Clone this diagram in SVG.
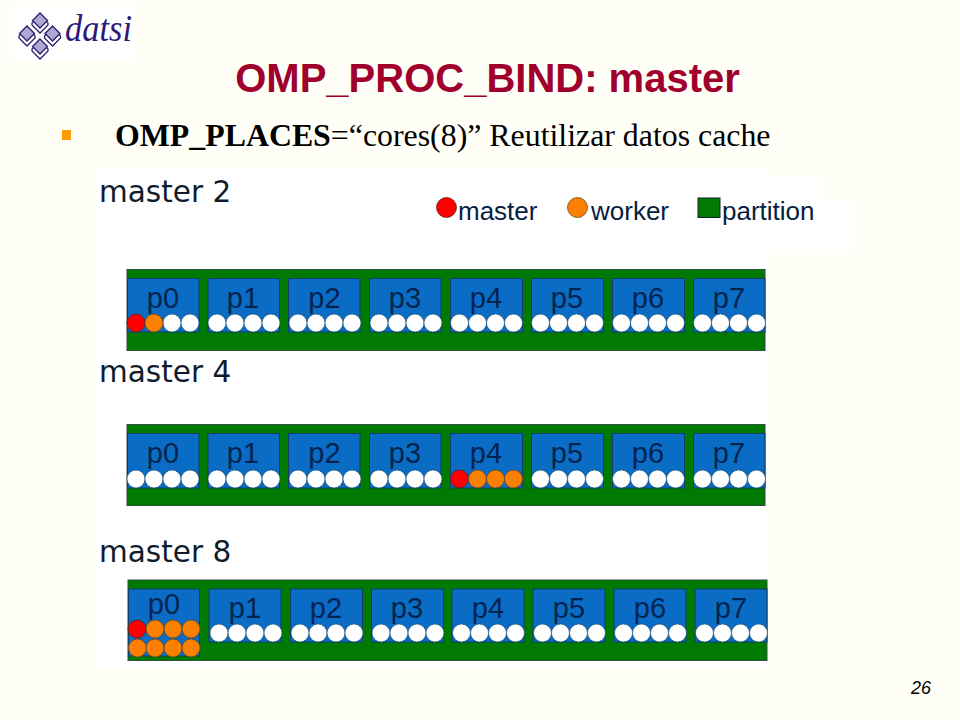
<svg xmlns="http://www.w3.org/2000/svg" width="960" height="720" viewBox="0 0 960 720">
<style>
.bg{fill:#fffff8}.w{fill:#fff}
.band{fill:#007a00;stroke:#2f4f3f;stroke-width:1}
.pl{fill:#0a6cc4;stroke:#0f3f66;stroke-width:1}
.cw{fill:#fff;stroke:#0f4a70;stroke-width:.6}
.cm{fill:#fe0000;stroke:#5a2020;stroke-width:.8}
.co{fill:#fb7f00;stroke:#6a4a20;stroke-width:.8}
.p{font:29px "Liberation Sans",Arial,sans-serif;fill:#02244f;text-anchor:middle}
.m{font:29.500px "DejaVu Sans",sans-serif;fill:#101c2c}
.l{font:26px "Liberation Sans",Arial,sans-serif;fill:#06203f}
.t{font:bold 40px "Liberation Sans",Arial,sans-serif;fill:#a0002c;text-anchor:middle}
.b{font:31.850px "Liberation Serif","Times New Roman",serif;fill:#000}
.d{fill:#b0a8d0;stroke:#2c1a70;stroke-width:1.300}
.dl{fill:#fff;stroke:#2c1a70;stroke-width:1.300}
</style>
<defs>
<g id="four"><circle class="cw" cx="9" cy="0" r="9"/><circle class="cw" cx="27" cy="0" r="9"/><circle class="cw" cx="45" cy="0" r="9"/><circle class="cw" cx="63" cy="0" r="9"/></g>
<g id="dia"><polygon class="dl" points="0,-5 8,3 8,5 0,13 -8,5 -8,3"/><polygon class="d" points="0,-7 7.500,0.500 0,8 -7.500,0.500"/></g>
</defs>
<rect class="bg" width="960" height="720"/>
<g id="logo"><rect class="w" x="14" y="6" width="120" height="54"/>
<use href="#dia" x="40" y="20"/><use href="#dia" x="27" y="33"/><use href="#dia" x="52.500" y="33"/><use href="#dia" x="40" y="46"/>
<text x="65" y="41" style="font:italic 38px 'Liberation Serif',serif;fill:#2c1a78" textLength="67" lengthAdjust="spacingAndGlyphs">datsi</text></g>
<g id="title"><text class="t" x="487.500" y="92">OMP_PROC_BIND: master</text></g>
<g id="bullet"><rect x="62" y="130" width="9" height="10" fill="#ff9a00"/>
<text class="b" x="115" y="146"><tspan font-weight="bold">OMP_PLACES</tspan>=“cores(8)” Reutilizar datos cache</text></g>
<g id="panel"><rect class="w" x="96" y="170" width="672" height="498"/><rect class="w" x="768" y="176" width="52" height="24"/><rect class="w" x="768" y="200" width="84" height="50"/></g>
<g id="legend">
<circle class="cm" cx="446.500" cy="207.500" r="10"/><text class="l" x="458" y="220">master</text>
<circle class="co" cx="577.500" cy="207.500" r="10"/><text class="l" x="591" y="220">worker</text>
<rect x="698" y="198" width="22" height="19.500" fill="#007a00" stroke="#123" stroke-width="1"/><text class="l" x="722" y="220">partition</text>
</g>
<g id="master2"><text class="m" x="99" y="202">master 2</text>
<rect class="band" x="127" y="269.500" width="638" height="81"/>
<g id="m2p0"><rect class="pl" x="127.500" y="278.500" width="71.500" height="53.500"/><text class="p" x="163" y="308">p0</text><use href="#four" x="127" y="323"/><circle class="cm" cx="136" cy="323" r="9"/><circle class="co" cx="154" cy="323" r="9"/></g>
<g id="m2p1"><rect class="pl" x="208" y="278.500" width="71.500" height="53.500"/><text class="p" x="243" y="308">p1</text><use href="#four" x="208" y="323"/></g>
<g id="m2p2"><rect class="pl" x="288.500" y="278.500" width="71.500" height="53.500"/><text class="p" x="324.500" y="308">p2</text><use href="#four" x="289" y="323"/></g>
<g id="m2p3"><rect class="pl" x="369.500" y="278.500" width="71.500" height="53.500"/><text class="p" x="405" y="308">p3</text><use href="#four" x="370" y="323"/></g>
<g id="m2p4"><rect class="pl" x="450.500" y="278.500" width="72" height="53.500"/><text class="p" x="486" y="308">p4</text><use href="#four" x="450.500" y="323"/></g>
<g id="m2p5"><rect class="pl" x="531.500" y="278.500" width="72" height="53.500"/><text class="p" x="567" y="308">p5</text><use href="#four" x="531.500" y="323"/></g>
<g id="m2p6"><rect class="pl" x="612.500" y="278.500" width="72" height="53.500"/><text class="p" x="648" y="308">p6</text><use href="#four" x="612.500" y="323"/></g>
<g id="m2p7"><rect class="pl" x="693.500" y="278.500" width="71.500" height="53.500"/><text class="p" x="729" y="308">p7</text><use href="#four" x="693.500" y="323"/></g>
</g>
<g id="master4"><text class="m" x="99" y="382">master 4</text>
<rect class="band" x="127" y="424.500" width="638" height="81"/>
<g id="m4p0"><rect class="pl" x="127.500" y="433.500" width="71.500" height="54.500"/><text class="p" x="163" y="463">p0</text><use href="#four" x="127" y="479"/></g>
<g id="m4p1"><rect class="pl" x="208" y="433.500" width="71.500" height="54.500"/><text class="p" x="243" y="463">p1</text><use href="#four" x="208" y="479"/></g>
<g id="m4p2"><rect class="pl" x="288.500" y="433.500" width="71.500" height="54.500"/><text class="p" x="324.500" y="463">p2</text><use href="#four" x="289" y="479"/></g>
<g id="m4p3"><rect class="pl" x="369.500" y="433.500" width="71.500" height="54.500"/><text class="p" x="405" y="463">p3</text><use href="#four" x="370" y="479"/></g>
<g id="m4p4"><rect class="pl" x="450.500" y="433.500" width="72" height="54.500"/><text class="p" x="486" y="463">p4</text><circle class="cm" cx="459.500" cy="479" r="9"/><circle class="co" cx="477.500" cy="479" r="9"/><circle class="co" cx="495.500" cy="479" r="9"/><circle class="co" cx="513.500" cy="479" r="9"/></g>
<g id="m4p5"><rect class="pl" x="531.500" y="433.500" width="72" height="54.500"/><text class="p" x="567" y="463">p5</text><use href="#four" x="531.500" y="479"/></g>
<g id="m4p6"><rect class="pl" x="612.500" y="433.500" width="72" height="54.500"/><text class="p" x="648" y="463">p6</text><use href="#four" x="612.500" y="479"/></g>
<g id="m4p7"><rect class="pl" x="693.500" y="433.500" width="71.500" height="54.500"/><text class="p" x="729" y="463">p7</text><use href="#four" x="693.500" y="479"/></g>
</g>
<g id="master8"><text class="m" x="99" y="562">master 8</text>
<rect class="band" x="128" y="580" width="639" height="80.500"/>
<g id="m8p0"><rect class="pl" x="128.500" y="589" width="71" height="67"/><text class="p" x="164" y="614">p0</text>
<circle class="cm" cx="137" cy="629" r="9"/><circle class="co" cx="155" cy="629" r="9"/><circle class="co" cx="173" cy="629" r="9"/><circle class="co" cx="191" cy="629" r="9"/>
<circle class="co" cx="137.500" cy="648" r="9"/><circle class="co" cx="155" cy="648" r="9"/><circle class="co" cx="173" cy="648" r="9"/><circle class="co" cx="191" cy="648" r="9"/></g>
<g id="m8p1"><rect class="pl" x="209" y="589" width="72" height="53"/><text class="p" x="245" y="618">p1</text><use href="#four" x="210" y="633"/></g>
<g id="m8p2"><rect class="pl" x="290.500" y="589" width="72" height="53"/><text class="p" x="326" y="618">p2</text><use href="#four" x="291" y="633"/></g>
<g id="m8p3"><rect class="pl" x="371.500" y="589" width="72" height="53"/><text class="p" x="407" y="618">p3</text><use href="#four" x="372" y="633"/></g>
<g id="m8p4"><rect class="pl" x="452" y="589" width="72" height="53"/><text class="p" x="488" y="618">p4</text><use href="#four" x="452.500" y="633"/></g>
<g id="m8p5"><rect class="pl" x="533" y="589" width="72" height="53"/><text class="p" x="569" y="618">p5</text><use href="#four" x="533.500" y="633"/></g>
<g id="m8p6"><rect class="pl" x="614" y="589" width="72" height="53"/><text class="p" x="650" y="618">p6</text><use href="#four" x="614.500" y="633"/></g>
<g id="m8p7"><rect class="pl" x="695" y="589" width="72" height="53"/><text class="p" x="731" y="618">p7</text><use href="#four" x="695.500" y="633"/></g>
</g>
<g id="connectors"/>
<g id="page"><text x="931" y="694" text-anchor="end" style="font:italic 18px 'Liberation Sans',Arial,sans-serif;fill:#000">26</text></g>
</svg>
